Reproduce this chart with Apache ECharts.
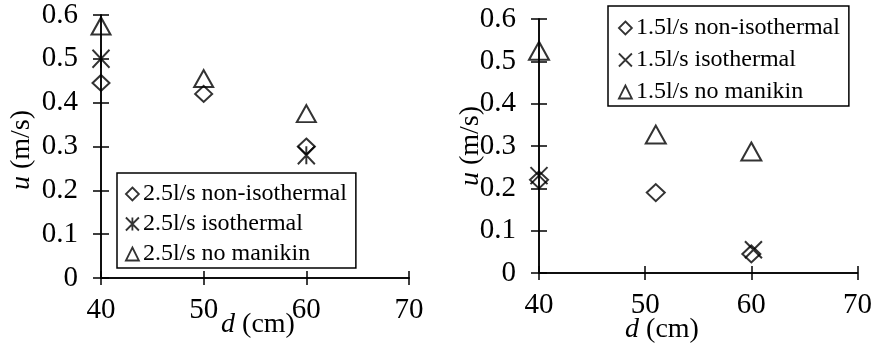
<!DOCTYPE html>
<html>
<head>
<meta charset="utf-8">
<script src="https://cdn.jsdelivr.net/npm/echarts@6/dist/echarts.min.js"></script>
<style>
  html, body { margin: 0; padding: 0; background: #fff; }
  #chart { width: 875px; height: 346px; }
</style>
</head>
<body>
<div id="chart"></div>
<script>
// Velocity u (m/s) against distance d (cm) for two supply flow rates.

// 2.5 l/s
const d25NonIso = [40, 50, 60];
const u25NonIso = [0.445, 0.42, 0.30];
const d25Iso = [40, 60];
const u25Iso = [0.50, 0.28];
const d25NoMan = [40, 50, 60];
const u25NoMan = [0.575, 0.455, 0.375];

// 1.5 l/s
const d15NonIso = [40, 51, 60];
const u15NonIso = [0.22, 0.19, 0.045];
const d15Iso = [40, 60.2];
const u15Iso = [0.23, 0.055];
const d15NoMan = [40, 51, 60];
const u15NoMan = [0.525, 0.327, 0.287];

const names25 = ['2.5l/s non-isothermal', '2.5l/s isothermal', '2.5l/s no manikin'];
const names15 = ['1.5l/s non-isothermal', '1.5l/s isothermal', '1.5l/s no manikin'];

const dTicks = { min: 40, max: 70, interval: 10 };
const uTicks = { min: 0, max: 0.6, interval: 0.1 };

const FONT = "'Liberation Serif', 'Times New Roman', serif";
const INK = '#000';
const TICK_FONT = 29;

const SYM_DIAMOND = 'diamond';
const SYM_TRIANGLE = 'triangle';
const SYM_ASTERISK = 'path://M0,0L10,10M10,0L0,10M5,0L5,10';
const SYM_CROSS = 'path://M0,0L10,10M10,0L0,10';

const zip = (xs, ys) => xs.map((x, i) => [x, ys[i]]);

const hollow = { color: 'rgba(0,0,0,0)', borderColor: INK, borderWidth: 2 };
const legendHollow = { color: 'rgba(0,0,0,0)', borderColor: INK, borderWidth: 1.8 };

function xAxes(gridIndex) {
  const base = {
    type: 'value', gridIndex, position: 'bottom',
    min: dTicks.min, max: dTicks.max, interval: dTicks.interval,
    splitLine: { show: false },
    axisLine: { show: true, onZero: false, lineStyle: { color: INK, width: 1.5 } }
  };
  return [
    Object.assign({}, base, {
      axisTick: { show: true, inside: false, length: 7, lineStyle: { color: INK, width: 1.5 } },
      axisLabel: { show: true, color: INK, fontFamily: FONT, fontSize: TICK_FONT, margin: 18 }
    }),
    Object.assign({}, base, {
      axisTick: { show: true, inside: true, length: 7, lineStyle: { color: INK, width: 1.5 } },
      axisLabel: { show: false }
    })
  ];
}

function yAxes(gridIndex) {
  const base = {
    type: 'value', gridIndex, position: 'left',
    min: uTicks.min, max: uTicks.max, interval: uTicks.interval,
    splitLine: { show: false },
    axisLine: { show: true, onZero: false, lineStyle: { color: INK, width: 1.5 } }
  };
  return [
    Object.assign({}, base, {
      axisTick: { show: true, inside: false, length: 8, lineStyle: { color: INK, width: 1.5 } },
      axisLabel: { show: true, color: INK, fontFamily: FONT, fontSize: TICK_FONT, margin: 23 }
    }),
    Object.assign({}, base, {
      axisTick: { show: true, inside: true, length: 8, lineStyle: { color: INK, width: 1.5 } },
      axisLabel: { show: false }
    })
  ];
}

function scatter(name, data, symbol, size, axisIndex) {
  return {
    type: 'scatter', name, data, symbol, symbolSize: size,
    xAxisIndex: axisIndex, yAxisIndex: axisIndex,
    itemStyle: hollow,
    emphasis: { disabled: true }
  };
}

function legendBlock(names, icons, pos, gap, pad) {
  return Object.assign({
    orient: 'vertical',
    selectedMode: false,
    backgroundColor: '#fff',
    borderColor: INK, borderWidth: 1.5, borderRadius: 0,
    padding: pad,
    itemWidth: 13, itemHeight: 13, itemGap: gap,
    textStyle: { color: INK, fontFamily: FONT, fontSize: 24, padding: [0, 0, 0, -1] },
    data: names.map((n, i) => ({ name: n, icon: icons[i], itemStyle: legendHollow }))
  }, pos);
}

function axisTitle(text, x, y, rotate) {
  return {
    type: 'text', x, y, rotation: rotate ? Math.PI / 2 : 0, z: 10,
    style: {
      text, fill: INK, fontFamily: FONT, fontSize: 28,
      align: 'center', verticalAlign: 'middle',
      rich: { i: { fontStyle: 'italic', fontFamily: FONT, fontSize: 28, fill: INK } }
    }
  };
}

const chart = echarts.init(document.getElementById('chart'), null, { renderer: 'canvas' });

chart.setOption({
  backgroundColor: '#fff',
  animation: false,
  grid: [
    { left: 101, top: 15, width: 308, height: 263 },
    { left: 539, top: 19, width: 319, height: 254 }
  ],
  xAxis: [...xAxes(0), ...xAxes(1)],
  yAxis: [...yAxes(0), ...yAxes(1)],
  legend: [
    legendBlock(names25, [SYM_DIAMOND, SYM_ASTERISK, SYM_TRIANGLE], { left: 117, top: 173 }, 6, [9, 9, 2, 8]),
    legendBlock(names15, [SYM_DIAMOND, SYM_CROSS, SYM_TRIANGLE], { left: 608, top: 6 }, 8, [10, 9, 2, 10])
  ],
  graphic: [
    axisTitle('{i|u} (m/s)', 22, 150, true),
    axisTitle('{i|d} (cm)', 258, 325, false),
    axisTitle('{i|u} (m/s)', 471, 146, true),
    axisTitle('{i|d} (cm)', 662, 330, false)
  ],
  series: [
    scatter(names25[0], zip(d25NonIso, u25NonIso), SYM_DIAMOND, [17, 16], 0),
    scatter(names25[1], zip(d25Iso, u25Iso), SYM_ASTERISK, [17, 18], 0),
    scatter(names25[2], zip(d25NoMan, u25NoMan), SYM_TRIANGLE, [19, 17], 0),
    scatter(names15[0], zip(d15NonIso, u15NonIso), SYM_DIAMOND, [18, 17], 2),
    scatter(names15[1], zip(d15Iso, u15Iso), SYM_CROSS, [17, 17], 2),
    scatter(names15[2], zip(d15NoMan, u15NoMan), SYM_TRIANGLE, [20, 18], 2)
  ]
});
</script>
</body>
</html>
